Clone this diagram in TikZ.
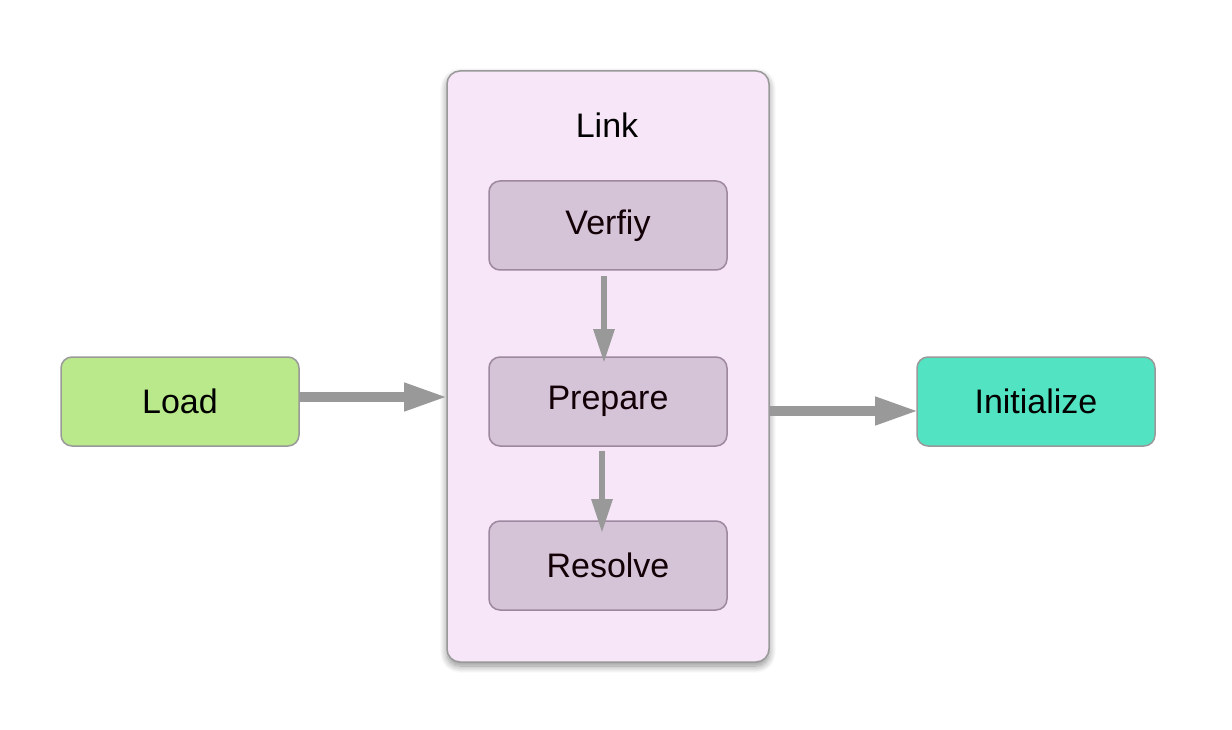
\documentclass[tikz,border=0pt]{standalone}
\usepackage{fontspec}
\setmainfont{Liberation Sans}
\usetikzlibrary{arrows.meta,shadows.blur}
\definecolor{loadfill}{HTML}{B9E98A}
\definecolor{initfill}{HTML}{52E3C2}
\definecolor{linkfill}{HTML}{F6E6F8}
\definecolor{stepfill}{HTML}{D5C3D7}
\definecolor{stepline}{HTML}{9E889F}
\definecolor{boxline}{HTML}{999999}
\definecolor{arrowgray}{HTML}{999999}
\tikzset{
  outerbox/.style={draw=boxline, line width=1.5pt, rounded corners=11pt,
    minimum width=238pt, minimum height=89pt, inner sep=0pt,
    font=\fontsize{34}{40}\selectfont},
  stepbox/.style={draw=stepline, fill=stepfill, line width=1.5pt, rounded corners=11pt,
    minimum width=238pt, minimum height=89pt, inner sep=0pt,
    font=\fontsize{34}{40}\selectfont, text=black!90!purple},
  bigarrow/.style={draw=arrowgray, line width=10pt,
    -{Triangle[length=44pt,width=26pt]}, shorten >=-3pt},
  smallarrow/.style={draw=arrowgray, line width=6pt,
    -{Triangle[length=34pt,width=20pt]}}
}
\begin{document}
\begin{tikzpicture}[x=1pt,y=-1pt]
\useasboundingbox (0,0) rectangle (1232,730);
\node[draw=boxline, fill=linkfill, line width=1.5pt, rounded corners=13pt,
  minimum width=322pt, minimum height=591pt, inner sep=0pt,
  blur shadow={shadow xshift=0pt, shadow yshift=-4pt, shadow blur radius=7pt,
    shadow blur steps=10, shadow opacity=45}]
  (link) at (608,366.5) {};
\node[font=\fontsize{34}{40}\selectfont, anchor=base] (linklabel) at (607,138) {Link};
\node[outerbox, fill=loadfill] (load) at (180,401.5) {Load};
\node[outerbox, fill=initfill] (init) at (1036,401.5) {Initialize};
\node[stepbox] (verify) at (608,225.5) {Verfiy};
\node[stepbox] (prepare) at (608,401.5) {Prepare};
\node[stepbox] (resolve) at (608,565.5) {Resolve};
\coordinate (a1s) at (299,397);
\coordinate (a1e) at (445,397);
\draw[bigarrow] (a1s) -- (a1e);
\coordinate (a2s) at (770,411);
\coordinate (a2e) at (916,411);
\draw[bigarrow] (a2s) -- (a2e);
\draw[smallarrow] (verify.south -| 604,0) ++(0,5) -- (604,363);
\draw[smallarrow] (prepare.south -| 602,0) ++(0,4) -- (602,533);
\end{tikzpicture}
\end{document}
